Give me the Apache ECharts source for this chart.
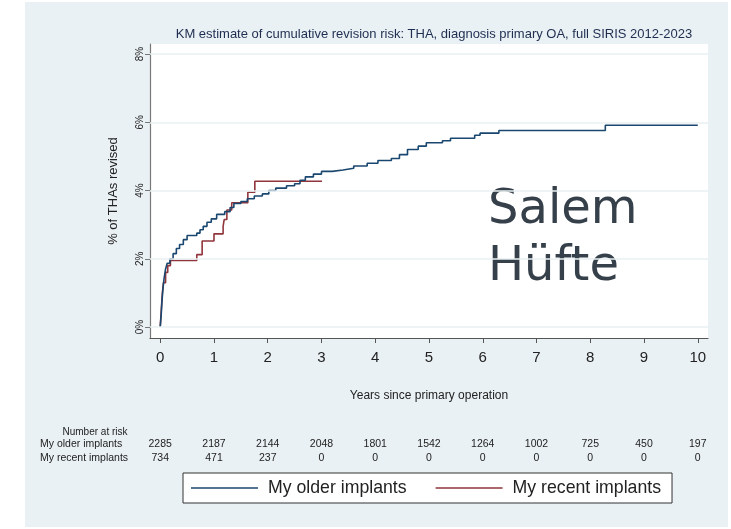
<!DOCTYPE html>
<html>
<head>
<meta charset="utf-8">
<script src="https://cdn.jsdelivr.net/npm/echarts@6/dist/echarts.min.js"></script>
<style>
  html, body { margin: 0; padding: 0; background: #fff; }
  #bg { position: absolute; left: 25px; top: 2px; width: 703px; height: 525px; background: #eaf1f4; }
  #chart { position: absolute; left: 0; top: 0; width: 731px; height: 529px; }
</style>
</head>
<body>
<div id="bg"></div>
<div id="chart"></div>
<script>
// KM curves: [years, cumulative % revised] (value holds from that time on)
var olderImplants = [
  [0, 0], [0.02, 0.4], [0.03, 0.7], [0.05, 1.1], [0.07, 1.4], [0.1, 1.7], [0.13, 1.87],
  [0.18, 2.0], [0.24, 2.15], [0.3, 2.3], [0.36, 2.42], [0.43, 2.56], [0.5, 2.68],
  [0.68, 2.75], [0.74, 2.85], [0.8, 2.95], [0.87, 3.07], [0.95, 3.17], [1.05, 3.3],
  [1.2, 3.38], [1.3, 3.5], [1.37, 3.62], [1.5, 3.68], [1.62, 3.76], [1.75, 3.84],
  [1.9, 3.9], [2.02, 4.0], [2.15, 4.07], [2.35, 4.14], [2.5, 4.2], [2.6, 4.3],
  [2.7, 4.4], [2.85, 4.48], [3.0, 4.56], [3.2, 4.6], [3.4, 4.65], [3.6, 4.72],
  [3.85, 4.8], [4.05, 4.88], [4.3, 4.94], [4.45, 5.05], [4.6, 5.2], [4.8, 5.3],
  [4.95, 5.4], [5.25, 5.46], [5.4, 5.53], [5.85, 5.62], [5.95, 5.68], [6.3, 5.76],
  [8.28, 5.91], [10.0, 5.91]
];
var recentImplants = [
  [0, 0], [0.02, 0.5], [0.04, 1.0], [0.06, 1.3], [0.1, 1.6], [0.14, 1.8], [0.19, 1.95],
  [0.68, 2.12], [0.78, 2.52], [1.0, 2.73], [1.17, 2.95], [1.19, 3.15], [1.24, 3.43],
  [1.33, 3.64], [1.63, 3.95], [1.76, 4.27], [3.01, 4.27]
];

var yearTicks = [0, 1, 2, 3, 4, 5, 6, 7, 8, 9, 10];
var pctTicks = [0, 2, 4, 6, 8];

// number at risk table
var riskRows = ['My older implants', 'My recent implants'];
var riskOlder = [2285, 2187, 2144, 2048, 1801, 1542, 1264, 1002, 725, 450, 197];
var riskRecent = [734, 471, 237, 0, 0, 0, 0, 0, 0, 0, 0];

var BLUE = '#1a476f';
var RED = '#90353b';
var FONT = 'Liberation Sans, Arial, sans-serif';

var chart = echarts.init(document.getElementById('chart'));

var option = {
  animation: false,
  textStyle: { fontFamily: FONT },
  title: {
    text: 'KM estimate of cumulative revision risk: THA, diagnosis primary OA, full SIRIS 2012-2023',
    left: 429, top: 23, textAlign: 'center',
    textStyle: { fontSize: 13, fontWeight: 'normal', color: '#1e2d50', fontFamily: FONT }
  },
  grid: { left: 150, right: 23, top: 44, bottom: 191, show: true, backgroundColor: '#fff', borderWidth: 0 },
  xAxis: {
    type: 'value', min: -0.19, max: 10.19,
    name: 'Years since primary operation', nameLocation: 'middle', nameGap: 52,
    nameTextStyle: { fontSize: 12, color: '#222' },
    axisLine: { show: true, onZero: false, lineStyle: { color: '#555', width: 1.2 } },
    axisTick: { show: true, length: 5, customValues: yearTicks, lineStyle: { color: '#555' } },
    axisLabel: { customValues: yearTicks, fontSize: 15, color: '#222', margin: 12 },
    splitLine: { show: false }
  },
  yAxis: {
    type: 'value', min: -0.322, max: 8.293,
    name: '% of THAs revised', nameLocation: 'middle', nameGap: 30,
    nameTextStyle: { fontSize: 13, color: '#222' },
    axisLine: { show: true, onZero: false, lineStyle: { color: '#777', width: 1.2 } },
    axisTick: { show: true, length: 5, customValues: pctTicks, lineStyle: { color: '#777' } },
    axisLabel: {
      customValues: pctTicks, rotate: 90, fontSize: 10, color: '#222', margin: 5,
      formatter: function (v) { return v + '%'; }
    },
    splitLine: { show: false }
  },
  legend: {
    left: 183, top: 473,
    data: ['My older implants', 'My recent implants'],
    icon: 'rect', itemWidth: 67, itemHeight: 1.6, itemGap: 29,
    backgroundColor: '#fff', borderColor: '#333', borderWidth: 1,
    padding: [6, 11, 6, 8],
    textStyle: { fontSize: 17.7, color: '#222', padding: [0, 0, 0, 5] }
  },
  series: [
    {
      name: 'My older implants', type: 'line', step: 'end', showSymbol: false,
      data: olderImplants, color: BLUE, lineStyle: { width: 1.6, color: BLUE }, z: 3,
      markLine: {
        silent: true, symbol: 'none', label: { show: false },
        lineStyle: { color: '#e9f0f2', width: 1.5, type: 'solid' },
        data: pctTicks.map(function (v) { return { yAxis: v }; })
      }
    },
    {
      name: 'My recent implants', type: 'line', step: 'end', showSymbol: false,
      data: recentImplants, color: RED, lineStyle: { width: 1.6, color: RED }, z: 2
    }
  ]
};
chart.setOption(option);

// overlay text and the number-at-risk table, placed with the x scale
var elements = [
  { type: 'text', x: 488, y: 235, style: { text: 'Salem', fontSize: 48, fontFamily: 'DejaVu Sans', fill: '#36404a', textVerticalAlign: 'bottom' } },
  { type: 'text', x: 488, y: 292, style: { text: 'Hüfte', fontSize: 48, fontFamily: 'DejaVu Sans', fill: '#36404a', textVerticalAlign: 'bottom' } },
  { type: 'text', x: 95, y: 432, style: { text: 'Number at risk', fontSize: 10, fontFamily: FONT, fill: '#222', textAlign: 'center', textVerticalAlign: 'middle' } },
  { type: 'text', x: 40, y: 444, style: { text: riskRows[0], fontSize: 10.5, fontFamily: FONT, fill: '#222', textVerticalAlign: 'middle' } },
  { type: 'text', x: 40, y: 458, style: { text: riskRows[1], fontSize: 10.5, fontFamily: FONT, fill: '#222', textVerticalAlign: 'middle' } }
];
yearTicks.forEach(function (t, i) {
  var px = chart.convertToPixel({ xAxisIndex: 0 }, t);
  elements.push({ type: 'text', x: px, y: 444, style: { text: String(riskOlder[i]), fontSize: 10.5, fontFamily: FONT, fill: '#222', textAlign: 'center', textVerticalAlign: 'middle' } });
  elements.push({ type: 'text', x: px, y: 458, style: { text: String(riskRecent[i]), fontSize: 10.5, fontFamily: FONT, fill: '#222', textAlign: 'center', textVerticalAlign: 'middle' } });
});
chart.setOption({ graphic: elements });
</script>
</body>
</html>
